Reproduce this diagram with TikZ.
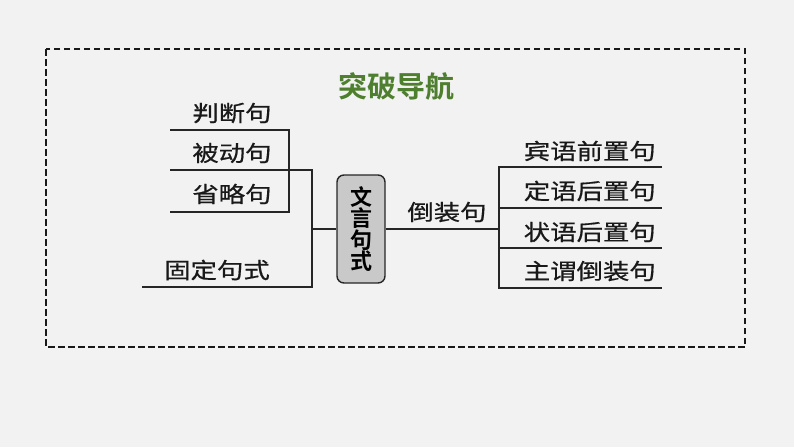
\documentclass[tikz,border=0pt]{standalone}
\usepackage{fontspec}
\newfontfamily\cjk[FakeStretch=1.2,FakeBold=0.6]{Noto Sans CJK SC}
\newfontfamily\cjkb[BoldFont={* Bold}]{Noto Sans CJK SC}
\definecolor{bg}{HTML}{F2F2F2}
\definecolor{ttl}{HTML}{4E7F2E}
\definecolor{nodegray}{HTML}{C9C9C9}
\begin{document}
\begin{tikzpicture}[x=1pt,y=-1pt,
  lbl/.style={font=\cjk\fontsize{22}{22}\selectfont, inner sep=0pt, text=black!90},
  ln/.style={line width=1.5pt, draw=black!85}]
\fill[bg] (0,0) rectangle (794,447);
\useasboundingbox (0,0) rectangle (794,447);
\draw[line width=1.8pt, dash pattern=on 6.5pt off 3.5pt, draw=black!90] (46,49) rectangle (745,347);
\node[font=\cjkb\bfseries\fontsize{29}{29}\selectfont, text=ttl, inner sep=0pt] (title) at (396,86) {突破导航};
% central node
\node[draw=black!85, line width=1.4pt, fill=nodegray, rounded corners=7pt,
  minimum width=48pt, minimum height=108pt, inner sep=0pt,
  font=\cjkb\bfseries\fontsize{22}{21.5}\selectfont, align=center] (c) at (361,229) {文\\言\\句\\式};
% left structure
\coordinate (l1a) at (170,130); \coordinate (l1b) at (289,130);
\coordinate (l2a) at (170,170); \coordinate (l2b) at (312,170);
\coordinate (l3a) at (170,212); \coordinate (l3b) at (289,212);
\coordinate (l4a) at (142,287); \coordinate (l4b) at (312,287);
\coordinate (lj) at (312,229);
\draw[ln] (l1a) -- (l1b) -- (l3b) -- (l3a);
\draw[ln] (l2a) -- (l2b) -- (l4b) -- (l4a);
\draw[ln] (lj) -- (c.west);
\node[lbl] (t1) at (232,113) {判断句};
\node[lbl] (t2) at (232,153) {被动句};
\node[lbl] (t3) at (232,194) {省略句};
\node[lbl] (t4) at (217,270) {固定句式};
% right structure
\coordinate (rj) at (499,229);
\coordinate (r1a) at (499,167); \coordinate (r1b) at (662,167);
\coordinate (r2a) at (499,208); \coordinate (r2b) at (662,208);
\coordinate (r3a) at (499,248); \coordinate (r3b) at (662,248);
\coordinate (r4a) at (499,288); \coordinate (r4b) at (662,288);
\draw[ln] (c.east) -- (rj);
\draw[ln] (r1b) -- (r1a) -- (r4a) -- (r4b);
\draw[ln] (r2a) -- (r2b);
\draw[ln] (r3a) -- (r3b);
\node[lbl] (m) at (447,212) {倒装句};
\node[lbl, anchor=east] (s1) at (656,151) {宾语前置句};
\node[lbl, anchor=east] (s2) at (656,191) {定语后置句};
\node[lbl, anchor=east] (s3) at (656,232) {状语后置句};
\node[lbl, anchor=east] (s4) at (656,271) {主谓倒装句};
\end{tikzpicture}
\end{document}
